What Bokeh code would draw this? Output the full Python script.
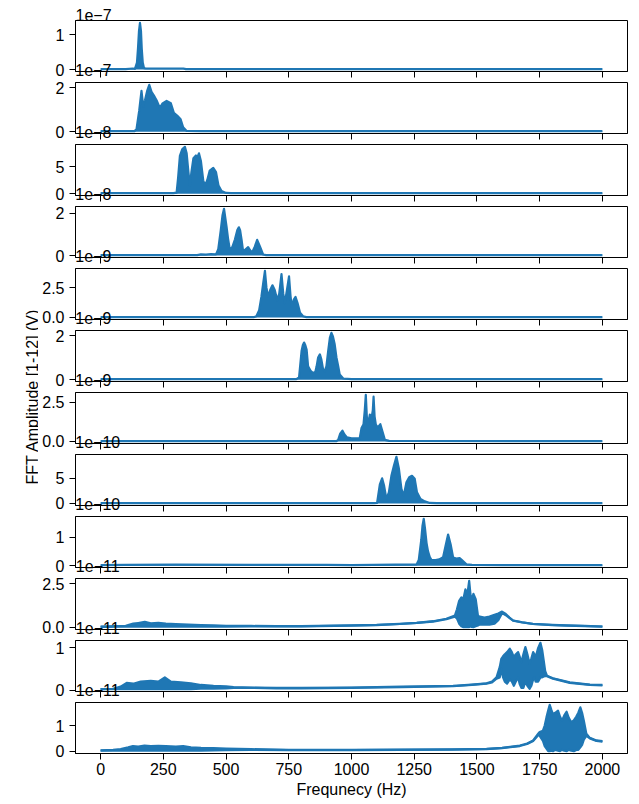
import math
from bokeh.plotting import figure
from bokeh.layouts import column, row
from bokeh.models import Label, FixedTicker, Range1d, Title
from bokeh.embed import file_html
from bokeh.resources import INLINE

FONT = "Liberation Sans"
BLUE = "#1f77b4"

freq_ticks = [0, 250, 500, 750, 1000, 1250, 1500, 1750, 2000]
exponents = [-7, -7, -8, -8, -9, -9, -9, -10, -10, -11, -11, -11]
ytick_vals = [[0, 1], [0, 2], [0, 5], [0, 2], [0, 2.5], [0, 2], [0, 2.5], [0, 5], [0, 1], [0, 2.5], [0, 1], [0, 1]]
ytick_text = [["0", "1"], ["0", "2"], ["0", "5"], ["0", "2"], ["0.0", "2.5"], ["0", "2"], ["0.0", "2.5"],
              ["0", "5"], ["0", "1"], ["0.0", "2.5"], ["0", "1"], ["0", "1"]]
x_label = "Frequnecy (Hz)"
y_label = "FFT Amplitude [1-12] (V)"

# amplitudes in units of 10**exponent
f1 = [0, 100, 128, 137, 145, 149, 153, 157, 161, 164, 168, 173, 180, 200, 250, 330, 340, 2000]
a1 = [0.01, 0.01, 0.03, 0.02, 0.2, 0.6, 1.1, 1.34, 1.1, 0.6, 0.2, 0.04, 0.03, 0.03, 0.03, 0.03, 0.01, 0.01]

f2 = [0, 135, 143, 154, 163, 170, 177, 186, 194, 203, 212, 223, 236, 247, 263, 280, 292, 305, 319, 329, 343, 400, 2000]
a2 = [0.02, 0.02, 0.1, 0.95, 1.83, 1.12, 1.41, 1.84, 2.1, 1.78, 1.63, 1.41, 1.06, 1.27, 1.38, 1.27, 0.84, 0.72, 0.55, 0.19, 0.03, 0.02, 0.02]

f3 = [0, 290, 303, 309, 316, 326, 336, 343, 350, 356, 362, 370, 380, 386, 392, 400, 409, 416, 425, 435, 449, 460, 470, 482, 500, 520, 2000]
a3 = [0.1, 0.1, 0.2, 3.0, 7.0, 8.3, 8.7, 7.5, 4.0, 1.5, 4.0, 6.6, 7.1, 6.8, 7.5, 6.0, 2.5, 1.5, 2.5, 4.3, 4.8, 4.0, 1.5, 0.5, 0.15, 0.1, 0.1]

f4 = [0, 385, 400, 420, 440, 460, 469, 479, 486, 492, 502, 508, 515, 525, 535, 545, 551, 556, 562, 568, 578, 588, 596, 604, 615, 624, 635, 648, 660, 2000]
a4 = [0.02, 0.02, 0.06, 0.05, 0.07, 0.06, 0.3, 1.2, 1.9, 2.2, 1.36, 0.8, 0.28, 0.4, 0.74, 1.2, 1.33, 1.2, 0.74, 0.2, 0.3, 0.4, 0.25, 0.15, 0.43, 0.74, 0.43, 0.05, 0.02, 0.02]

f5 = [0, 610, 621, 632, 641, 648, 655, 661, 668, 676, 685, 694, 704, 712, 721, 728, 734, 742, 751, 757, 762, 770, 777, 785, 795, 807, 820, 2000]
a5 = [0.02, 0.02, 0.1, 0.6, 1.74, 2.87, 3.92, 2.5, 1.74, 2.3, 2.7, 2.3, 1.46, 2.0, 3.65, 2.0, 1.2, 2.2, 3.45, 1.8, 0.9, 1.5, 1.72, 1.2, 0.4, 0.1, 0.03, 0.02]

f6 = [0, 780, 791, 801, 806, 811, 816, 821, 827, 837, 847, 856, 861, 867, 874, 880, 887, 893, 900, 907, 914, 920, 926, 933, 940, 947, 953, 967, 1000, 2000]
a6 = [0.02, 0.02, 0.1, 1.29, 1.55, 1.67, 1.55, 1.36, 0.6, 0.4, 0.3, 0.35, 0.6, 1.0, 1.14, 0.9, 0.45, 0.38, 0.6, 1.29, 1.9, 2.11, 1.95, 1.59, 1.0, 0.6, 0.23, 0.05, 0.02, 0.02]

f7 = [0, 940, 947, 955, 964, 972, 982, 1000, 1020, 1033, 1040, 1048, 1053, 1057, 1061, 1066, 1073, 1080, 1085, 1088, 1092, 1097, 1105, 1115, 1124, 1133, 1150, 1220, 2000]
a7 = [0.02, 0.02, 0.1, 0.5, 0.69, 0.45, 0.26, 0.2, 0.2, 0.22, 0.86, 1.1, 2.0, 2.97, 1.6, 1.07, 1.71, 1.5, 2.0, 2.85, 1.6, 1.07, 0.9, 1.1, 0.6, 0.1, 0.04, 0.03, 0.02]

f8 = [0, 1090, 1102, 1113, 1122, 1130, 1139, 1149, 1159, 1169, 1179, 1189, 1199, 1208, 1219, 1230, 1241, 1252, 1261, 1275, 1292, 1312, 1340, 2000]
a8 = [0.05, 0.05, 0.1, 3.8, 5.0, 3.5, 0.9, 2.2, 5.5, 7.5, 9.28, 6.9, 2.9, 1.5, 4.2, 5.2, 5.5, 4.9, 2.2, 0.9, 0.4, 0.1, 0.05, 0.05]

f9 = [0, 100, 300, 600, 900, 1000, 1260, 1268, 1278, 1283, 1288, 1293, 1299, 1305, 1312, 1319, 1335, 1350, 1365, 1375, 1385, 1395, 1405, 1418, 1431, 1440, 1458, 1480, 1600, 2000]
a9 = [0.02, 0.03, 0.04, 0.03, 0.03, 0.02, 0.05, 0.2, 0.9, 1.4, 1.64, 1.3, 0.8, 0.5, 0.3, 0.2, 0.2, 0.22, 0.3, 0.7, 1.09, 0.75, 0.29, 0.25, 0.27, 0.2, 0.05, 0.03, 0.02, 0.02]

f10 = [0, 30, 60, 100, 130, 150, 176, 200, 230, 260, 300, 350, 400, 450, 500, 600, 700, 800, 1000, 1100,
       1192, 1260, 1325, 1378, 1412, 1420, 1429, 1438, 1446, 1454, 1462, 1469, 1474, 1478, 1486, 1495, 1504, 1511, 1530, 1550,
       1570, 1585, 1600, 1615, 1630, 1644, 1680, 1723, 1800, 1857, 1930, 2000]
hi10 = [0.04, 0.05, 0.06, 0.08, 0.2, 0.24, 0.3, 0.22, 0.25, 0.2, 0.18, 0.15, 0.12, 0.1, 0.08, 0.07, 0.06, 0.06, 0.1, 0.13,
        0.19, 0.25, 0.34, 0.48, 0.66, 1.0, 1.5, 1.7, 1.6, 2.15, 1.9, 2.64, 1.9, 1.5, 1.9, 1.6, 0.66, 0.6, 0.55, 0.6,
        0.7, 0.78, 0.89, 0.75, 0.55, 0.38, 0.28, 0.19, 0.13, 0.1, 0.07, 0.04]
lo10 = [0.02, 0.02, 0.03, 0.03, 0.03, 0.03, 0.04, 0.03, 0.03, 0.03, 0.03, 0.03, 0.03, 0.03, 0.03, 0.04, 0.05, 0.05, 0.09, 0.12,
        0.18, 0.24, 0.32, 0.45, 0.6, 0.5, 0.2, 0.05, 0.0, 0.0, 0.0, 0.0, 0.05, 0.02, 0.0, 0.05, 0.1, 0.15, 0.15, 0.15,
        0.2, 0.4, 0.8, 0.68, 0.52, 0.37, 0.27, 0.18, 0.12, 0.09, 0.06, 0.03]

f11 = [0, 50, 80, 104, 130, 160, 200, 230, 256, 280, 320, 360, 400, 450, 500, 530, 600, 700, 800, 1000,
       1200, 1405, 1480, 1538, 1560, 1578, 1591, 1597, 1604, 1611, 1620, 1631, 1639, 1647, 1655, 1664, 1670, 1677, 1685, 1693,
       1701, 1710, 1717, 1724, 1729, 1734, 1744, 1753, 1760, 1766, 1772, 1779, 1803, 1870, 1950, 2000]
hi11 = [0.02, 0.03, 0.08, 0.17, 0.15, 0.2, 0.22, 0.2, 0.3, 0.2, 0.18, 0.16, 0.12, 0.1, 0.09, 0.07, 0.06, 0.05, 0.05, 0.06,
        0.08, 0.1, 0.13, 0.16, 0.2, 0.3, 0.55, 0.74, 0.8, 0.85, 0.9, 0.98, 0.9, 0.78, 0.85, 0.9, 0.8, 0.66, 0.85, 1.02,
        0.85, 0.62, 0.75, 0.9, 0.85, 0.78, 1.0, 1.12, 0.95, 0.7, 0.45, 0.34, 0.28, 0.18, 0.13, 0.12]
lo11 = [0.02, 0.02, 0.02, 0.02, 0.02, 0.02, 0.02, 0.02, 0.02, 0.02, 0.02, 0.02, 0.03, 0.03, 0.04, 0.05, 0.05, 0.04, 0.04, 0.05,
        0.07, 0.09, 0.12, 0.15, 0.18, 0.27, 0.3, 0.5, 0.3, 0.2, 0.15, 0.25, 0.2, 0.1, 0.2, 0.3, 0.15, 0.05, 0.05, 0.2,
        0.1, 0.03, 0.1, 0.25, 0.3, 0.2, 0.2, 0.3, 0.3, 0.32, 0.33, 0.33, 0.27, 0.17, 0.12, 0.11]

f12 = [0, 50, 80, 110, 129, 150, 175, 200, 230, 260, 300, 329, 360, 400, 450, 500, 600, 750, 900, 1000,
       1200, 1400, 1538, 1600, 1671, 1700, 1724, 1744, 1750, 1763, 1770, 1777, 1784, 1790, 1797, 1803, 1812, 1823, 1831, 1839,
       1848, 1857, 1866, 1876, 1886, 1896, 1904, 1912, 1919, 1926, 1936, 1950, 1976, 2000]
hi12 = [0.03, 0.05, 0.08, 0.15, 0.2, 0.18, 0.22, 0.2, 0.21, 0.2, 0.18, 0.2, 0.15, 0.13, 0.12, 0.1, 0.08, 0.05, 0.05, 0.05,
        0.06, 0.07, 0.09, 0.13, 0.22, 0.3, 0.42, 0.68, 0.75, 0.8, 1.0, 1.32, 1.6, 1.81, 1.6, 1.45, 1.5, 1.58, 1.35, 1.19,
        1.4, 1.54, 1.3, 1.13, 1.2, 1.35, 1.5, 1.71, 1.5, 1.19, 0.68, 0.52, 0.42, 0.39]
lo12 = [0.02, 0.02, 0.02, 0.02, 0.02, 0.02, 0.02, 0.02, 0.02, 0.02, 0.02, 0.02, 0.02, 0.02, 0.03, 0.04, 0.05, 0.04, 0.04, 0.04,
        0.05, 0.06, 0.08, 0.12, 0.2, 0.28, 0.4, 0.62, 0.6, 0.4, 0.2, 0.1, 0.0, 0.0, 0.02, 0.0, 0.05, 0.02, 0.0, 0.05,
        0.02, 0.0, 0.05, 0.02, 0.0, 0.05, 0.05, 0.15, 0.25, 0.45, 0.6, 0.5, 0.4, 0.37]

panels = [(f1, a1, None), (f2, a2, None), (f3, a3, None), (f4, a4, None), (f5, a5, None), (f6, a6, None),
          (f7, a7, None), (f8, a8, None), (f9, a9, None), (f10, hi10, lo10), (f11, hi11, lo11), (f12, hi12, lo12)]

FRAME_W, FRAME_H = 552, 51
LEFT_W = 38
TOTAL_H = 804
FS = 16.0


def offset_text(e):
    return "1e\u2212%d" % abs(e)


def left_padded(txt):
    # the axis label is centred on the frame's left edge; pad with no-break spaces
    # so that its visible part starts at the frame's left edge
    em = {"\u2212": 0.584}
    w = sum(em.get(c, 0.556) for c in txt) * FS
    n = int(round((w + 1) / (0.278 * FS)))
    return "\u00a0" * n + txt


def set_label_align(ax, options):
    if "axis_label_align" not in ax.properties():
        return False
    for opt in options:
        try:
            ax.axis_label_align = opt
            return True
        except Exception:
            pass
    return False


xr = Range1d(-100, 2100)
figs = []
for i, (fx, hi, lo) in enumerate(panels):
    dmin = min(lo) if lo is not None else min(hi)
    dmax = max(hi)
    pad = 0.05 * (dmax - dmin)
    y0, y1 = dmin - pad, dmax + pad
    top = 20 if i == 0 else 1
    bottom = 51 if i == 11 else 10
    p = figure(frame_width=FRAME_W, frame_height=FRAME_H, x_range=xr, y_range=Range1d(y0, y1),
               min_border_left=37, min_border_right=12, min_border_top=top, min_border_bottom=bottom,
               toolbar_location=None, output_backend="svg")
    p.grid.visible = False
    p.outline_line_color = "black"
    p.outline_line_width = 1
    p.outline_line_alpha = 1
    p.background_fill_color = "white"
    p.border_fill_color = "white"

    if lo is None:
        p.varea(x=fx, y1=0, y2=hi, color=BLUE)
    else:
        p.varea(x=fx, y1=lo, y2=hi, color=BLUE)
        p.line(fx, lo, line_color=BLUE, line_width=2.2, line_join="round")
    p.line(fx, hi, line_color=BLUE, line_width=2.2, line_join="round")

    for ax in (p.xaxis[0], p.yaxis[0]):
        ax.axis_line_color = "black"
        ax.major_tick_line_color = "black"
        ax.major_tick_out = 6
        ax.major_tick_in = 0
        ax.minor_tick_out = 0
        ax.minor_tick_in = 0
        ax.major_label_text_font = FONT
        ax.major_label_text_color = "black"
        ax.major_label_text_font_size = "16px"
        ax.axis_label_text_font = FONT
        ax.axis_label_text_font_style = "normal"
        ax.axis_label_text_color = "black"
        ax.axis_label_text_font_size = "16px"

    p.xaxis.ticker = FixedTicker(ticks=freq_ticks)
    xax = p.xaxis[0]
    if i < 11:
        xax.major_label_overrides = {t: "" for t in freq_ticks}
        xax.major_label_text_font_size = "0px"
        xax.major_label_standoff = 0
        # offset text of the next panel sits just above that panel, over this one's bottom edge
        xax.axis_label = left_padded(offset_text(exponents[i + 1]))
        xax.axis_label_standoff = -16
        set_label_align(xax, ["start", "left"])
    else:
        xax.major_label_standoff = 3
        xax.axis_label = x_label
        xax.axis_label_standoff = 3

    p.yaxis.ticker = FixedTicker(ticks=ytick_vals[i])
    p.yaxis.major_label_overrides = {v: t for v, t in zip(ytick_vals[i], ytick_text[i])}
    p.yaxis.major_label_standoff = 5

    if i == 0:
        p.add_layout(Title(text=offset_text(exponents[0]), align="left", text_font=FONT, text_font_size="16px",
                           text_font_style="normal", text_color="black", standoff=0, offset=0), "above")
    figs.append(p)

lf = figure(width=LEFT_W, height=TOTAL_H, x_range=Range1d(0, LEFT_W), y_range=Range1d(0, TOTAL_H),
            min_border_left=0, min_border_right=0, min_border_top=0, min_border_bottom=0,
            toolbar_location=None, output_backend="svg", x_axis_type=None, y_axis_type=None)
lf.grid.visible = False
lf.outline_line_color = None
lf.add_layout(Label(x=31.5, y=TOTAL_H - 396, text=y_label, angle=math.pi / 2, text_font=FONT,
                    text_font_size="16px", text_color="black", text_align="center", text_baseline="alphabetic"))

layout = row(lf, column(*figs, spacing=0), spacing=0)
open("out.html", "w").write(file_html(layout, INLINE))
